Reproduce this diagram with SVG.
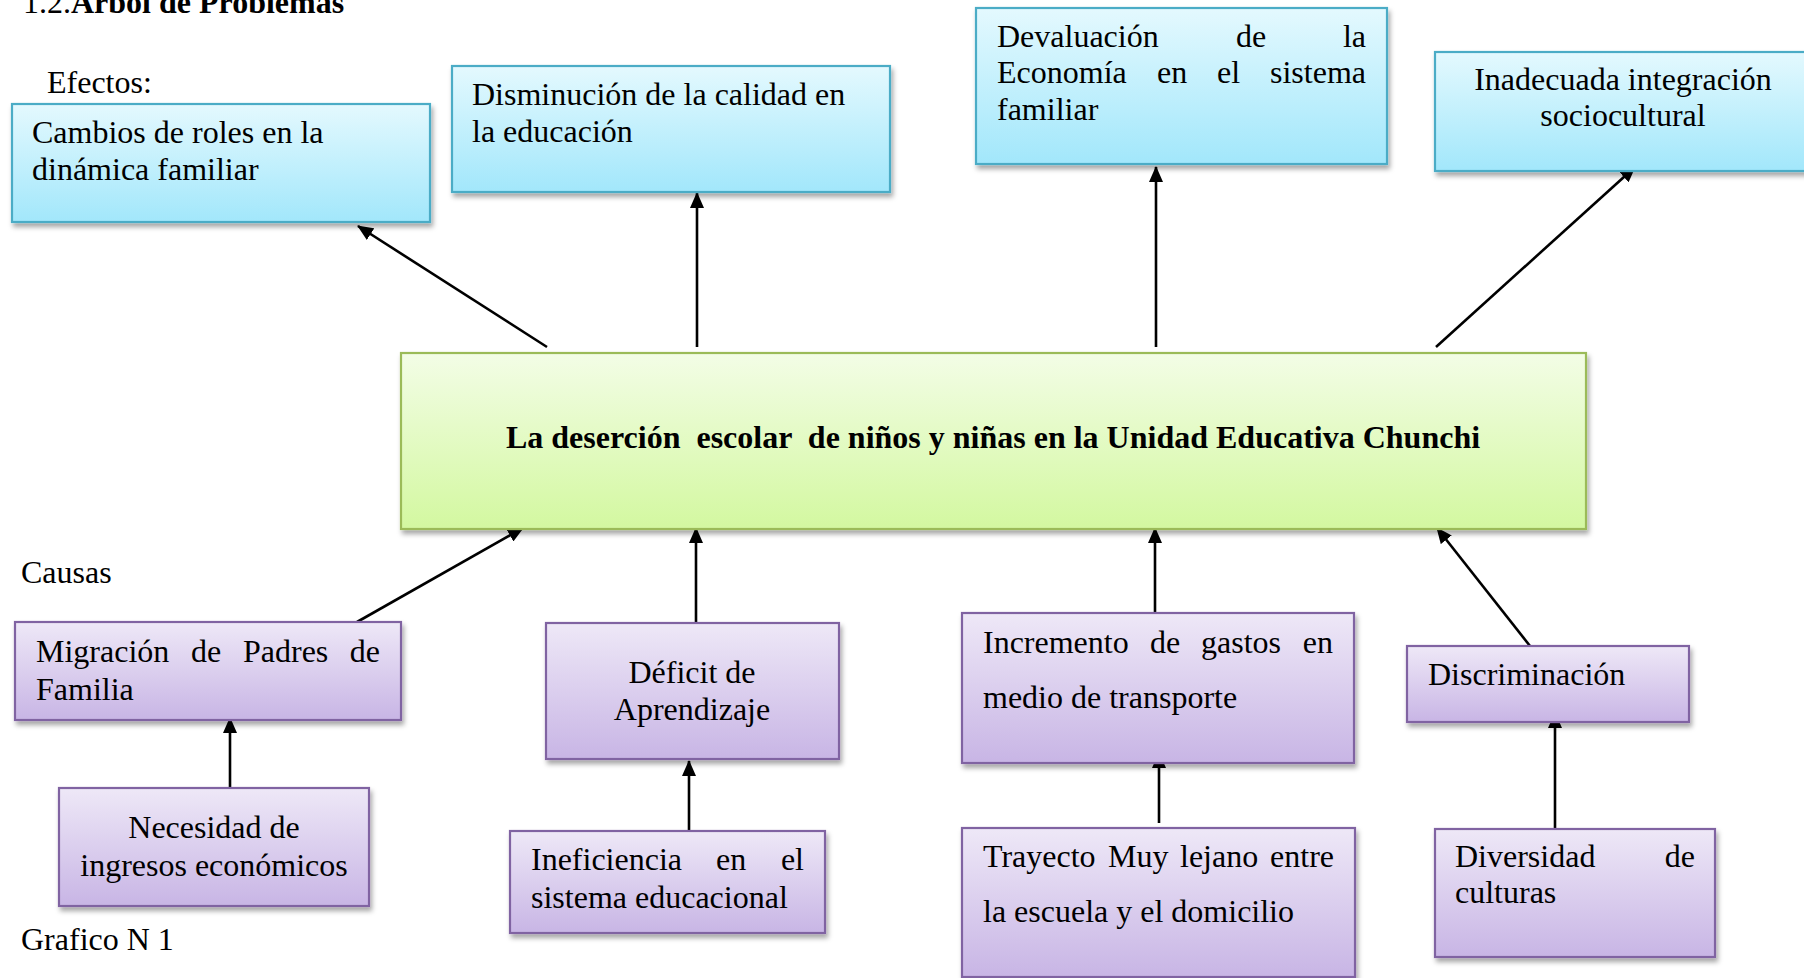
<svg xmlns="http://www.w3.org/2000/svg" width="1804" height="978" viewBox="0 0 1804 978">
<style>
text{font-family:"Liberation Serif","Times New Roman",serif;font-size:32px;fill:#000}
.b{font-weight:bold}
.m{text-anchor:middle}
.e{text-anchor:end}
.blue{fill:url(#gBlue);stroke:#4bacc6;stroke-width:2.2;filter:url(#sh)}
.green{fill:url(#gGreen);stroke:#9bbb59;stroke-width:2.2;filter:url(#sh)}
.purple{fill:url(#gPurple);stroke:#8064a2;stroke-width:2.2;filter:url(#sh)}
.c{stroke:#000;stroke-width:2.6;fill:none;marker-end:url(#ah)}
</style>
<defs>
<linearGradient id="gBlue" x1="0" y1="0" x2="0" y2="1"><stop offset="0" stop-color="#e4f9fe"/><stop offset="1" stop-color="#a2e7fb"/></linearGradient>
<linearGradient id="gGreen" x1="0" y1="0" x2="0" y2="1"><stop offset="0" stop-color="#f3fde6"/><stop offset="1" stop-color="#d3f8a0"/></linearGradient>
<linearGradient id="gPurple" x1="0" y1="0" x2="0" y2="1"><stop offset="0" stop-color="#eee8f7"/><stop offset="1" stop-color="#c8b5e5"/></linearGradient>
<filter id="sh" x="-5%" y="-10%" width="112%" height="130%"><feDropShadow dx="2" dy="4" stdDeviation="2.5" flood-color="#000" flood-opacity="0.35"/></filter>
<marker id="ah" markerUnits="userSpaceOnUse" markerWidth="16" markerHeight="14" refX="15" refY="7" orient="auto"><path d="M0,0 L16,7 L0,14 z" fill="#000"/></marker>
</defs>

<text x="23" y="13">1.2.<tspan class="b">Arbol de Problemas</tspan></text>
<text x="47" y="93">Efectos:</text>
<text x="21" y="583">Causas</text>
<text x="21" y="950">Grafico N 1</text>

<g id="connectors">
<line class="c" x1="547" y1="347" x2="358" y2="226"/>
<line class="c" x1="697" y1="347" x2="697" y2="193"/>
<line class="c" x1="1156" y1="347" x2="1156" y2="167"/>
<line class="c" x1="1436" y1="347" x2="1635" y2="167"/>
<line class="c" x1="357" y1="622" x2="523" y2="528"/>
<line class="c" x1="696" y1="623" x2="696" y2="528"/>
<line class="c" x1="1155" y1="623" x2="1155" y2="528"/>
<line class="c" x1="1530" y1="646" x2="1437" y2="528"/>
<line class="c" x1="230" y1="788" x2="230" y2="718"/>
<line class="c" x1="689" y1="830" x2="689" y2="761"/>
<line class="c" x1="1159" y1="823" x2="1159" y2="753"/>
<line class="c" x1="1555" y1="829" x2="1555" y2="713"/>
</g>

<g id="n-cambios">
<rect class="blue" x="12" y="104" width="418" height="118"/>
<text x="32" y="143">Cambios de roles en la</text>
<text x="32" y="180">dinámica familiar</text>
</g>
<g id="n-disminucion">
<rect class="blue" x="452" y="66" width="438" height="126"/>
<text x="472" y="105">Disminución de la calidad en</text>
<text x="472" y="142">la educación</text>
</g>
<g id="n-devaluacion">
<rect class="blue" x="976" y="8" width="411" height="156"/>
<text x="997" y="47">Devaluación</text>
<text x="1236" y="47">de</text>
<text class="e" x="1366" y="47">la</text>
<text x="997" y="83">Economía</text>
<text x="1157" y="83">en</text>
<text x="1217" y="83">el</text>
<text class="e" x="1366" y="83">sistema</text>
<text x="997" y="120">familiar</text>
</g>
<g id="n-inadecuada">
<rect class="blue" x="1435" y="52" width="380" height="119"/>
<text class="m" x="1623" y="90">Inadecuada integración</text>
<text class="m" x="1623" y="126">sociocultural</text>
</g>

<g id="n-center">
<rect class="green" x="401" y="353" width="1185" height="176"/>
<text class="b m" x="993" y="448" xml:space="preserve">La deserción  escolar  de niños y niñas en la Unidad Educativa Chunchi</text>
</g>

<g id="n-migracion">
<rect class="purple" x="15" y="622" width="386" height="98"/>
<text x="36" y="662">Migración</text>
<text x="191" y="662">de</text>
<text x="243" y="662">Padres</text>
<text class="e" x="380" y="662">de</text>
<text x="36" y="700">Familia</text>
</g>
<g id="n-deficit">
<rect class="purple" x="546" y="623" width="293" height="136"/>
<text class="m" x="692" y="683">Déficit de</text>
<text class="m" x="692" y="720">Aprendizaje</text>
</g>
<g id="n-incremento">
<rect class="purple" x="962" y="613" width="392" height="150"/>
<text x="983" y="653">Incremento</text>
<text x="1150" y="653">de</text>
<text x="1201" y="653">gastos</text>
<text class="e" x="1333" y="653">en</text>
<text x="983" y="708">medio de transporte</text>
</g>
<g id="n-discriminacion">
<rect class="purple" x="1407" y="646" width="282" height="76"/>
<text x="1428" y="685">Discriminación</text>
</g>
<g id="n-necesidad">
<rect class="purple" x="59" y="788" width="310" height="118"/>
<text class="m" x="214" y="838">Necesidad de</text>
<text class="m" x="214" y="876">ingresos económicos</text>
</g>
<g id="n-ineficiencia">
<rect class="purple" x="510" y="831" width="315" height="102"/>
<text x="531" y="870">Ineficiencia</text>
<text x="716" y="870">en</text>
<text class="e" x="804" y="870">el</text>
<text x="531" y="908">sistema educacional</text>
</g>
<g id="n-trayecto">
<rect class="purple" x="962" y="828" width="393" height="149"/>
<text x="983" y="867">Trayecto</text>
<text x="1108" y="867">Muy</text>
<text x="1180" y="867">lejano</text>
<text class="e" x="1334" y="867">entre</text>
<text x="983" y="922">la escuela y el domicilio</text>
</g>
<g id="n-diversidad">
<rect class="purple" x="1435" y="829" width="280" height="128"/>
<text x="1455" y="867">Diversidad</text>
<text class="e" x="1695" y="867">de</text>
<text x="1455" y="903">culturas</text>
</g>
</svg>
